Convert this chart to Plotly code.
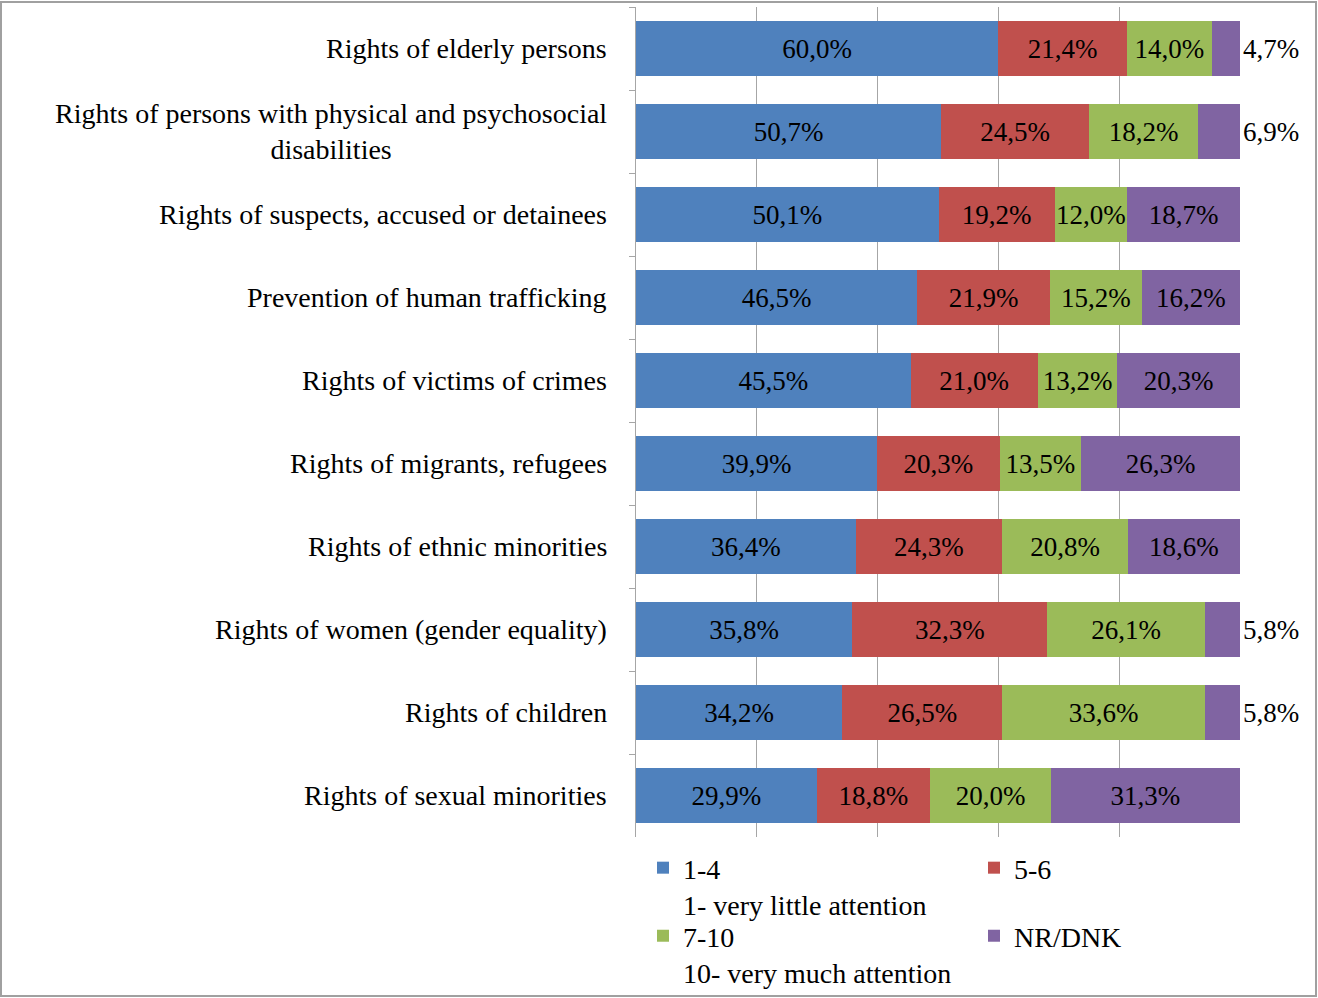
import plotly.graph_objects as go

categories = [
    "Rights of elderly persons",
    "Rights of persons with physical and psychosocial<br>disabilities",
    "Rights of suspects, accused or detainees",
    "Prevention of human trafficking",
    "Rights of victims of crimes",
    "Rights of migrants, refugees",
    "Rights of ethnic minorities",
    "Rights of women (gender equality)",
    "Rights of children",
    "Rights of sexual minorities",
]
series_names = ["1-4<br>1- very little attention", "5-6", "7-10<br>10- very much attention", "NR/DNK"]
v_1_4 = [60.0, 50.7, 50.1, 46.5, 45.5, 39.9, 36.4, 35.8, 34.2, 29.9]
v_5_6 = [21.4, 24.5, 19.2, 21.9, 21.0, 20.3, 24.3, 32.3, 26.5, 18.8]
v_7_10 = [14.0, 18.2, 12.0, 15.2, 13.2, 13.5, 20.8, 26.1, 33.6, 20.0]
v_nr = [4.7, 6.9, 18.7, 16.2, 20.3, 26.3, 18.6, 5.8, 5.8, 31.3]
colors = ["#4F81BD", "#C0504D", "#9BBB59", "#8064A2"]

FONT = "Liberation Serif"
FS = 28
FS_BAR = 27
GRAY = "#a6a6a6"

def fmt(v):
    return f"{v:.1f}%".replace(".", ",")

legend_ids = ["legend", "legend2", "legend3", "legend4"]

fig = go.Figure()
for name, vals, col, lg in zip(series_names, [v_1_4, v_5_6, v_7_10, v_nr], colors, legend_ids):
    is_last = name == "NR/DNK"
    pos = ["outside" if (is_last and v < 10) else "inside" for v in vals]
    fig.add_trace(go.Bar(
        y=categories, x=vals, name=name, orientation="h", legend=lg,
        marker=dict(color=col, line=dict(width=0)),
        text=[fmt(v) for v in vals], textposition=pos,
        insidetextanchor="middle", textangle=0, constraintext="none",
        insidetextfont=dict(family=FONT, size=FS_BAR, color="black"),
        outsidetextfont=dict(family=FONT, size=FS_BAR, color="black"),
        cliponaxis=False,
    ))

annotations = []
for c in categories:
    annotations.append(dict(
        x=0, y=c, xref="x", yref="y", text=c, showarrow=False,
        xanchor="right", yanchor="middle", align="center", xshift=-27,
        font=dict(family=FONT, size=FS, color="black"),
    ))

def leg(x, y):
    return dict(orientation="h", x=x, xanchor="left", y=y, yanchor="top",
                valign="top", bgcolor="rgba(0,0,0,0)",
                font=dict(family=FONT, size=FS, color="black"))

fig.update_layout(
    width=1318, height=998,
    margin=dict(l=636, r=78, t=7, b=161, autoexpand=False),
    barmode="stack", barnorm="percent", bargap=0.34,
    plot_bgcolor="white", paper_bgcolor="white",
    font=dict(family=FONT, size=FS, color="black"),
    showlegend=True,
    legend=leg(0.0116, -0.0072),
    legend2=leg(0.5596, -0.0072),
    legend3=leg(0.0116, -0.0892),
    legend4=leg(0.5596, -0.0892),
    xaxis=dict(range=[0, 100], dtick=20, showgrid=True, gridcolor=GRAY, gridwidth=1,
               showticklabels=False, zeroline=False, showline=False, ticks=""),
    yaxis=dict(type="category", autorange="reversed", showgrid=False, showticklabels=False,
               showline=True, linecolor=GRAY, linewidth=1, ticks="outside", tickson="boundaries",
               ticklen=6, tickcolor=GRAY, zeroline=False),
    annotations=annotations,
    shapes=[dict(type="rect", xref="paper", yref="paper",
                 x0=(1 - 636) / 604, x1=(1316 - 636) / 604,
                 y0=(837 - 996) / 830, y1=(837 - 2) / 830,
                 line=dict(color="#a0a0a0", width=2), layer="above")],
)

fig.write_html("out.html", config={"displayModeBar": False},
               post_script="document.body.style.margin='0';document.body.style.overflow='hidden';")
